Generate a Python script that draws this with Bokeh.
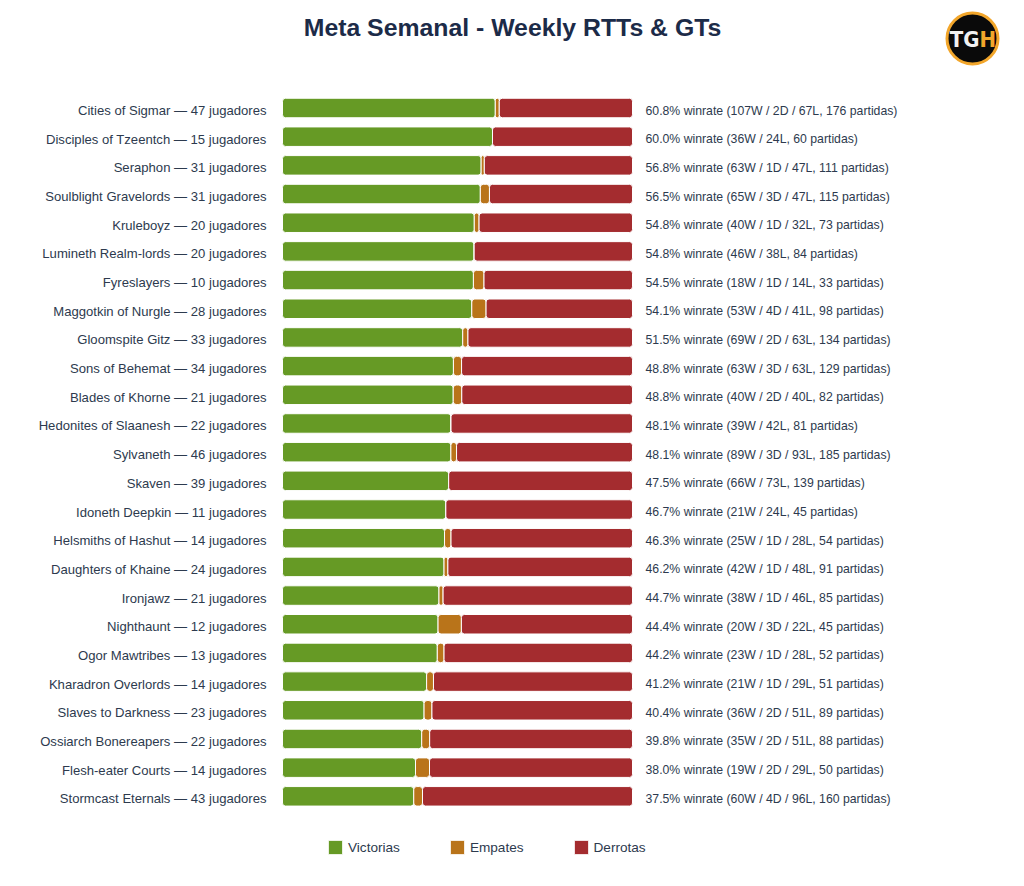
from bokeh.plotting import figure
from bokeh.models import Range1d, Legend, LegendItem, Label, ColumnDataSource
from bokeh.core.properties import value
from bokeh.embed import file_html
from bokeh.resources import INLINE

# ---------------- data ----------------
factions = [
    "Cities of Sigmar", "Disciples of Tzeentch", "Seraphon", "Soulblight Gravelords",
    "Kruleboyz", "Lumineth Realm-lords", "Fyreslayers", "Maggotkin of Nurgle",
    "Gloomspite Gitz", "Sons of Behemat", "Blades of Khorne", "Hedonites of Slaanesh",
    "Sylvaneth", "Skaven", "Idoneth Deepkin", "Helsmiths of Hashut",
    "Daughters of Khaine", "Ironjawz", "Nighthaunt", "Ogor Mawtribes",
    "Kharadron Overlords", "Slaves to Darkness", "Ossiarch Bonereapers",
    "Flesh-eater Courts", "Stormcast Eternals",
]
players = [47, 15, 31, 31, 20, 20, 10, 28, 33, 34, 21, 22, 46, 39, 11, 14, 24, 21, 12, 13, 14, 23, 22, 14, 43]
wins = [107, 36, 63, 65, 40, 46, 18, 53, 69, 63, 40, 39, 89, 66, 21, 25, 42, 38, 20, 23, 21, 36, 35, 19, 60]
draws = [2, 0, 1, 3, 1, 0, 1, 4, 2, 3, 2, 0, 3, 0, 0, 1, 1, 1, 3, 1, 1, 2, 2, 2, 4]
losses = [67, 24, 47, 47, 32, 38, 14, 41, 63, 63, 40, 42, 93, 73, 24, 28, 48, 46, 22, 28, 29, 51, 51, 29, 96]
games = [176, 60, 111, 115, 73, 84, 33, 98, 134, 129, 82, 81, 185, 139, 45, 54, 91, 85, 45, 52, 51, 89, 88, 50, 160]
winrates = [60.8, 60.0, 56.8, 56.5, 54.8, 54.8, 54.5, 54.1, 51.5, 48.8, 48.8, 48.1, 48.1, 47.5, 46.7,
            46.3, 46.2, 44.7, 44.4, 44.2, 41.2, 40.4, 39.8, 38.0, 37.5]
series_labels = ["Victorias", "Empates", "Derrotas"]
series_colors = ["#669a25", "#b9741a", "#a42c2f"]

TITLE = "Meta Semanal - Weekly RTTs & GTs"
FONT = "Liberation Sans"
TEXT_COLOR = "#2d3a4e"

# ---------------- layout (pixels) ----------------
W, H = 1008, 870
BAR_LEFT_PX = 282      # where 0% sits
BAR_PX = 350           # width of a 100% bar
ROW0_PX = 107.5        # centre of the first row
ROW_PX = 28.68         # row pitch

N = len(factions)
ys = list(range(N))
wf = [w / t for w, t in zip(wins, games)]
df = [d / t for d, t in zip(draws, games)]
lf = [l / t for l, t in zip(losses, games)]

left_labels = [f"{f} \u2014 {n} jugadores" for f, n in zip(factions, players)]
right_labels = []
for wr, w, d, l, t in zip(winrates, wins, draws, losses, games):
    mid = f"{w}W / {d}D / {l}L" if d else f"{w}W / {l}L"
    right_labels.append(f"{wr:.1f}% winrate ({mid}, {t} partidas)")

src = ColumnDataSource(dict(y=ys, wf=wf, df=df, lf=lf, left_label=left_labels, right_label=right_labels))

p = figure(
    width=W, height=H, output_backend="svg", toolbar_location=None,
    x_range=Range1d(-BAR_LEFT_PX / BAR_PX, (W - BAR_LEFT_PX) / BAR_PX),
    y_range=Range1d((H - ROW0_PX) / ROW_PX, -ROW0_PX / ROW_PX),
    x_axis_location=None, y_axis_location=None,
    min_border=0, outline_line_color=None, background_fill_color="white",
    border_fill_color="white",
)
p.grid.visible = False

renderers = p.hbar_stack(
    ["wf", "df", "lf"], y="y", height=0.68, color=series_colors, source=src,
    line_color="white", line_width=1, border_radius=3,
)

p.text(x=0, y="y", text="left_label", source=src, x_offset=-16, y_offset=2.5,
       text_align="right", text_baseline="middle",
       text_font=value(FONT), text_font_size="13.1px", text_color=TEXT_COLOR)
p.text(x=1, y="y", text="right_label", source=src, x_offset=13, y_offset=2.5,
       text_align="left", text_baseline="middle",
       text_font=value(FONT), text_font_size="12.25px", text_color=TEXT_COLOR)

# title
p.add_layout(Label(x=512, y=H - 27, x_units="screen", y_units="screen", text=TITLE,
                   text_align="center", text_baseline="middle", text_font=FONT,
                   text_font_size="24.8px", text_font_style="bold", text_color="#1c2b48"))

# logo (TGH badge)
lx = (972 - BAR_LEFT_PX) / BAR_PX
ly = (38 - ROW0_PX) / ROW_PX
p.scatter(x=[lx], y=[ly], size=51, marker="circle", fill_color="#0a0a0a",
          line_color="#f2a62b", line_width=3)
p.text(x=[lx], y=[ly], text=["TG"], x_offset=7, y_offset=1, text_align="right",
       text_baseline="middle", text_font=value("DejaVu Sans Condensed"),
       text_font_size="22px", text_font_style="bold", text_color="#f2f2f2")
p.text(x=[lx], y=[ly], text=["H"], x_offset=7, y_offset=1, text_align="left",
       text_baseline="middle", text_font=value("DejaVu Sans Condensed"),
       text_font_size="22px", text_font_style="bold", text_color="#f2a62b")

legend = Legend(
    items=[LegendItem(label=lab, renderers=[r]) for lab, r in zip(series_labels, renderers)],
    orientation="horizontal", location=(326, 14),
    glyph_width=18, glyph_height=18, label_standoff=4, spacing=48,
    padding=0, margin=0, border_line_color=None, background_fill_alpha=0,
    label_text_font=FONT, label_text_font_size="13.6px", label_text_color=TEXT_COLOR,
    label_height=18,
)
p.add_layout(legend)

open("out.html", "w").write(file_html(p, INLINE))
